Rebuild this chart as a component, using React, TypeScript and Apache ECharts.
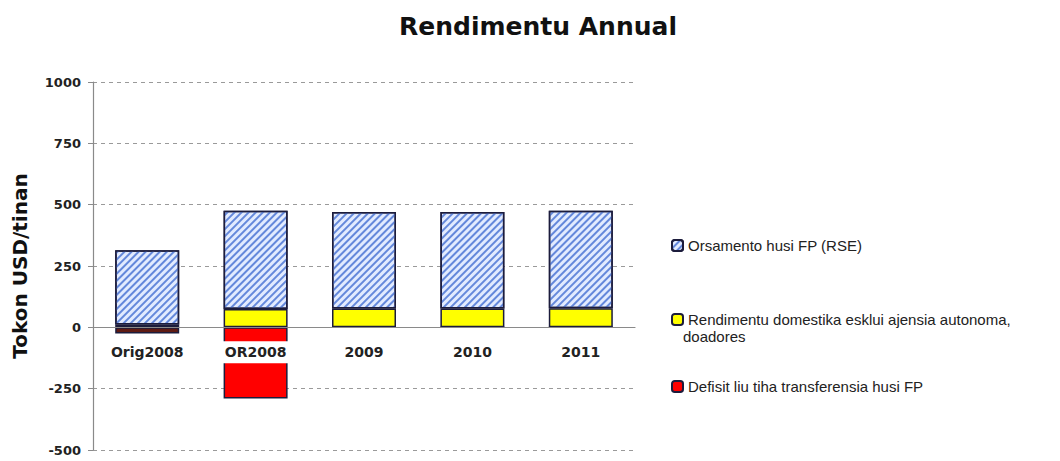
import React, { useEffect, useRef } from "react";
import * as echarts from "echarts";

const categories = ["Orig2008", "OR2008", "2009", "2010", "2011"];
const budgetFP = [302, 400, 393, 393, 397];
const domestic = [12, 75, 77, 77, 78];
const deficit = [-25, -290, 0, 0, 0];
const yTicks = { min: -500, max: 1000, interval: 250 };
const seriesNames = [
  "Orsamento husi FP (RSE)",
  "Rendimentu domestika esklui ajensia autonoma, doadores",
  "Defisit liu tiha transferensia husi FP",
];

const GRID_TOP = 82;
const GRID_BOTTOM = 11;
const HEIGHT = 461;

export default function App() {
  const ref = useRef<HTMLDivElement>(null);
  useEffect(() => {
    if (!ref.current) return;
    const chart = echarts.init(ref.current, undefined, { renderer: "svg" });
    const border = { borderColor: "#1c1c3c", borderWidth: 1.5 };
    const legendText = {
      fontFamily: "Liberation Sans, Arial, sans-serif",
      fontSize: 15,
      color: "#222",
    };
    const plotH = HEIGHT - GRID_TOP - GRID_BOTTOM;
    const zeroFromBottom = (plotH * (0 - yTicks.min)) / (yTicks.max - yTicks.min);
    chart.setOption({
      animation: false,
      backgroundColor: "#fff",
      title: {
        text: "Rendimentu Annual",
        left: 533,
        textAlign: "center",
        top: 9,
        textStyle: {
          fontFamily: "DejaVu Sans, Verdana, sans-serif",
          fontWeight: "bold",
          fontSize: 25,
          color: "#111",
        },
      },
      grid: { left: 93, right: 425, top: GRID_TOP, bottom: GRID_BOTTOM, containLabel: false },
      legend: [
        {
          data: [seriesNames[0]],
          orient: "vertical",
          left: 666,
          top: 233,
          itemWidth: 11,
          itemHeight: 11,
          itemGap: 4,
          textStyle: legendText,
        },
        {
          data: [seriesNames[1]],
          orient: "vertical",
          left: 666,
          top: 307,
          itemWidth: 11,
          itemHeight: 11,
          itemGap: 4,
          formatter: () => "Rendimentu domestika esklui ajensia autonoma,",
          textStyle: legendText,
        },
        {
          data: [seriesNames[2]],
          orient: "vertical",
          left: 666,
          top: 374,
          itemWidth: 11,
          itemHeight: 11,
          itemGap: 4,
          textStyle: legendText,
        },
      ],
      graphic: [
        {
          type: "text",
          left: 683,
          top: 329,
          style: { text: "doadores", fill: "#222", font: "15px Liberation Sans, Arial, sans-serif" },
        },
      ],
      xAxis: {
        type: "category",
        data: categories,
        z: 5,
        position: "bottom",
        offset: -zeroFromBottom,
        axisLine: { show: true, onZero: false, lineStyle: { color: "#8a8a8a", width: 1.2 } },
        axisTick: { show: false },
        axisLabel: {
          fontFamily: "DejaVu Sans, Verdana, sans-serif",
          fontWeight: "bold",
          fontSize: 14,
          color: "#222",
          margin: 14,
          backgroundColor: "#fff",
          padding: [4, 4],
        },
      },
      yAxis: {
        type: "value",
        min: yTicks.min,
        max: yTicks.max,
        interval: yTicks.interval,
        name: "Tokon USD/tinan",
        nameLocation: "middle",
        nameGap: 63,
        nameTextStyle: {
          fontFamily: "DejaVu Sans, Verdana, sans-serif",
          fontWeight: "bold",
          fontSize: 20,
          color: "#111",
        },
        axisLine: { show: true, lineStyle: { color: "#8a8a8a", width: 1.2 } },
        axisTick: { show: true, length: 5, lineStyle: { color: "#8a8a8a" } },
        axisLabel: {
          fontFamily: "DejaVu Sans, Verdana, sans-serif",
          fontWeight: "bold",
          fontSize: 13,
          color: "#222",
          margin: 12,
          formatter: (v: number) => String(v),
        },
        splitLine: {
          show: true,
          lineStyle: { color: "#9a9a9a", type: [4, 4], width: 1.2 },
        },
      },
      series: [
        {
          name: seriesNames[2],
          type: "bar",
          stack: "total",
          barWidth: 64,
          data: deficit.map((v, i) =>
            i === 0 ? { value: v, itemStyle: { color: "#5e1a12" } } : v
          ),
          itemStyle: { color: "#ff0000", ...border },
        },
        {
          name: seriesNames[1],
          type: "bar",
          stack: "total",
          barWidth: 64,
          data: domestic.map((v, i) =>
            i === 0 ? { value: v, itemStyle: { color: "#f0a000" } } : v
          ),
          itemStyle: { color: "#ffff00", ...border },
        },
        {
          name: seriesNames[0],
          type: "bar",
          stack: "total",
          barWidth: 64,
          data: budgetFP,
          itemStyle: {
            color: "#e2ebff",
            ...border,
            decal: {
              symbol: "rect",
              symbolSize: 1,
              dashArrayX: [1, 0],
              dashArrayY: [2, 3],
              rotation: -Math.PI / 4,
              color: "#6488db",
            },
          },
        },
      ],
    });
    return () => chart.dispose();
  }, []);
  return (
    <div
      ref={ref}
      style={{ position: "fixed", left: 0, top: 0, width: 1060, height: HEIGHT }}
    />
  );
}
